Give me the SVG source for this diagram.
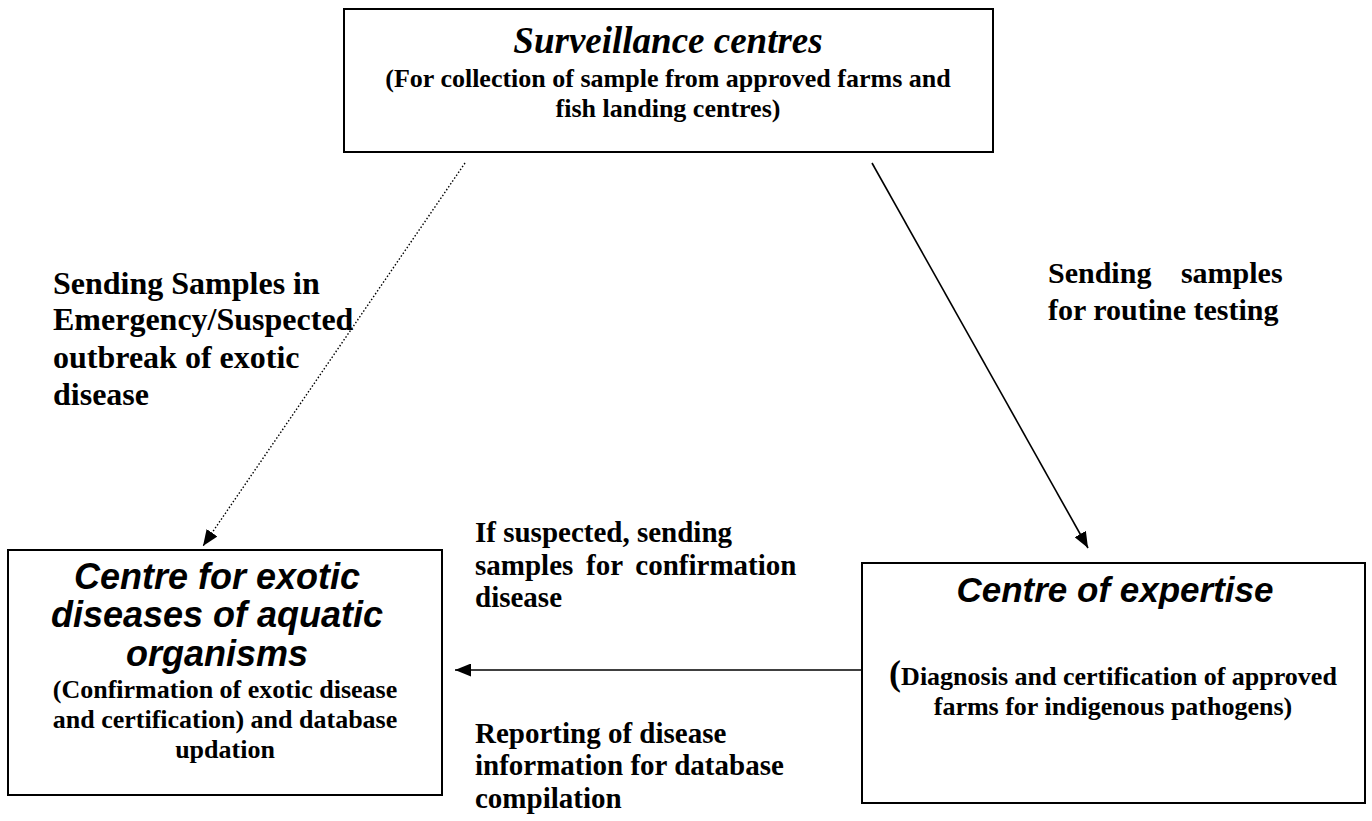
<svg xmlns="http://www.w3.org/2000/svg" width="1372" height="821" viewBox="0 0 1372 821">
<style>
.box{fill:#fff;stroke:#000;stroke-width:2}
.ttl{font-family:"Liberation Serif",serif;font-weight:bold;font-style:italic;font-size:37px;text-anchor:middle}
.ttl2{font-family:"Liberation Sans",Arial,sans-serif;font-weight:bold;font-style:italic;text-anchor:middle}
.sub{font-family:"Liberation Serif",serif;font-weight:bold;font-size:26px;text-anchor:middle}
.lbl{font-family:"Liberation Serif",serif;font-weight:bold}
.con{stroke:#000;fill:none;stroke-width:1.6}
.dot{stroke-dasharray:1.5 2;stroke-width:1.4}
</style>
<defs>
<marker id="ah" markerUnits="userSpaceOnUse" markerWidth="17" markerHeight="13" refX="16" refY="6.5" orient="auto">
<path d="M0,0 L16,6.5 L0,13 z" fill="#000"/>
</marker>
</defs>
<rect width="1372" height="821" fill="#fff"/>
<g id="surveillance">
<rect class="box" x="344" y="9" width="649" height="143"/>
<text class="ttl" x="668" y="53">Surveillance centres</text>
<text class="sub" x="668" y="87">(For collection of sample from approved farms and</text>
<text class="sub" x="668" y="117">fish landing centres)</text>
</g>
<g id="exotic">
<rect class="box" x="8" y="550" width="434" height="245"/>
<text class="ttl2" x="217" y="589" font-size="36">Centre for exotic</text>
<text class="ttl2" x="217" y="627" font-size="36">diseases of aquatic</text>
<text class="ttl2" x="217" y="666" font-size="36">organisms</text>
<text class="sub" x="225" y="698">(Confirmation of exotic disease</text>
<text class="sub" x="225" y="728">and certification) and database</text>
<text class="sub" x="225" y="758">updation</text>
</g>
<g id="expertise">
<rect class="box" x="862" y="563" width="503" height="240"/>
<text class="ttl2" x="1115" y="602" font-size="35">Centre of expertise</text>
<text class="sub" x="1113" y="685"><tspan font-size="36">(</tspan>Diagnosis and certification of approved</text>
<text class="sub" x="1113" y="715">farms for indigenous pathogens)</text>
</g>
<g id="connectors">
<line class="con dot" x1="465" y1="163" x2="203" y2="546" marker-end="url(#ah)"/>
<line class="con" x1="872" y1="163" x2="1088" y2="548" marker-end="url(#ah)"/>
<line class="con" x1="862" y1="670" x2="455" y2="670" marker-end="url(#ah)"/>
</g>
<g id="labels">
<text class="lbl" font-size="32"><tspan x="53" y="294">Sending Samples in</tspan><tspan x="53" y="330">Emergency/Suspected</tspan><tspan x="53" y="368">outbreak of exotic</tspan><tspan x="53" y="405">disease</tspan></text>
<text class="lbl" font-size="30"><tspan x="1048" y="283" word-spacing="22">Sending samples</tspan><tspan x="1048" y="320">for routine testing</tspan></text>
<text class="lbl" font-size="29"><tspan x="475" y="542">If suspected, sending</tspan><tspan x="475" y="575" word-spacing="5.5">samples for confirmation</tspan><tspan x="475" y="607">disease</tspan></text>
<text class="lbl" font-size="29"><tspan x="475" y="743">Reporting of disease</tspan><tspan x="475" y="775">information for database</tspan><tspan x="475" y="808">compilation</tspan></text>
</g>
</svg>
